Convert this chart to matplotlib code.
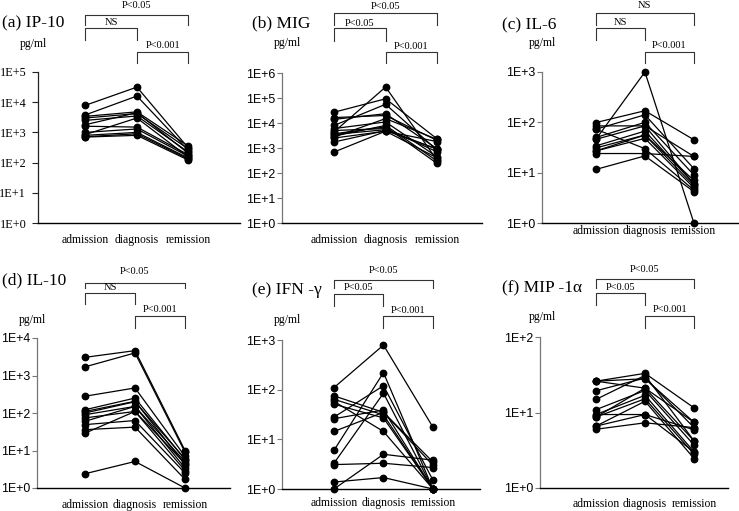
import matplotlib
matplotlib.use('Agg')
import matplotlib.pyplot as plt
from matplotlib.transforms import blended_transform_factory

W, H = 739, 511
categories = ['admission', 'diagnosis', 'remission']

# ---- data (pg/ml) ----
ip10_adm = [7900, 3800, 3400, 3000, 2500, 1800, 1600, 1000, 850, 800, 720, 700]
ip10_dia = [31600, 16000, 4800, 4200, 3500, 4500, 1500, 1300, 3000, 1000, 900, 800]
ip10_rem = [300, 250, 350, 280, 220, 200, 180, 160, 150, 140, 130, 120]

mig_adm = [27000, 16500, 14000, 8000, 6000, 4400, 3700, 3500, 2750, 2500, 1740, 690, 3000, 5000]
mig_dia = [93000, 20000, 23500, 56000, 11000, 275000, 7000, 5400, 15000, 4700, 5000, 4700, 8000, 6000]
mig_rem = [2300, 2000, 930, 810, 440, 320, 240, 900, 2200, 1800, 900, 400, 300, 700]

il6_adm = [99, 85, 73, 50, 46, 34, 31, 27, 24, 11.6, 73, 46, 27]
il6_dia = [170, 85, 141, 100, 1000, 67, 56, 48, 24, 21.5, 30, 85, 56]
il6_rem = [45, 21, 12, 9, 1, 6, 5.5, 5, 21, 4.2, 4.5, 6, 7]

il10_adm = [3050, 1700, 280, 122, 110, 90, 74, 60, 49, 36, 29, 2.4, 100]
il10_dia = [4600, 4000, 465, 250, 205, 150, 110, 150, 63, 42, 110, 5.1, 200]
il10_rem = [10, 9, 7, 5.7, 4.2, 3.4, 2.9, 5, 2.5, 1.7, 4.5, 1, 6]

ifng_adm = [110, 75, 64, 58, 51, 28, 26, 14.4, 6, 3.3, 3.1, 1.38, 1.0]
ifng_dia = [790, 35, 31, 14.4, 27, 120, 39, 35, 220, 85, 3.3, 1.7, 5]
ifng_rem = [17.5, 3.5, 1, 1, 1, 1.5, 1, 3, 1, 1, 2.7, 1, 3.8]

mip_adm = [26, 26, 19.4, 14.9, 10.9, 9.4, 9.4, 8.7, 6.6, 6.0, 8.7, 6.6, 26]
mip_dia = [33, 21, 28.6, 31, 19.6, 16.9, 9.4, 15.2, 14.1, 7.3, 21, 9.4, 28]
mip_rem = [11.5, 7.4, 6.3, 4.2, 3.7, 3.0, 5.9, 2.8, 2.45, 6.3, 4.2, 3.0, 7.4]

titles = ['(a) IP-10', '(b) MIG', '(c) IL-6', '(d) IL-10', '(e) IFN -γ', '(f) MIP -1α']
pvals = [('P<0.05', 'NS', 'P<0.001'),
         ('P<0.05', 'P<0.05', 'P<0.001'),
         ('NS', 'NS', 'P<0.001'),
         ('P<0.05', 'NS', 'P<0.001'),
         ('P<0.05', 'P<0.05', 'P<0.001'),
         ('P<0.05', 'P<0.05', 'P<0.001')]
top_exp = [5, 6, 3, 4, 3, 2]
data = [(ip10_adm, ip10_dia, ip10_rem), (mig_adm, mig_dia, mig_rem),
        (il6_adm, il6_dia, il6_rem), (il10_adm, il10_dia, il10_rem),
        (ifng_adm, ifng_dia, ifng_rem), (mip_adm, mip_dia, mip_rem)]

# ---- layout (pixels) ----
boxes = [(38, 72, 240, 223), (282, 73, 482, 223), (542, 72, 739, 223),
         (37, 338, 230, 488), (282, 340, 480, 489), (540, 337, 728, 488)]
xlims = [(-0.92, 3.0), (-1.01, 2.87), (-1.10, 2.92),
         (-0.96, 2.9), (-1.05, 2.95), (-1.14, 2.69)]
title_pos = [(2, 23), (252, 23), (502, 25), (2, 280), (252, 290), (502, 288)]
pg_pos = [(33, 44), (287, 43), (542, 43), (32, 320), (287, 320), (542, 317)]
xlab_pad = [8, 8, 1.5, 8, 6, 7]
brk = [[(57, 47, 66), (44, 32, 49), (20, 9, 26)],
       [(60, 48, 67), (45, 32, 50), (21, 10, 27)],
       [(59, 47, 66), (44, 32, 49), (20, 9, 26)],
       [(55, 50, 67), (45, 34, 51), (22, 10, 28)],
       [(60, 52, 70), (46, 34, 53), (24, 12, 30)],
       [(58, 49, 67), (44, 32, 50), (21, 9, 27)]]
pairs = [(0, 2), (0, 1), (1, 2)]

SERIF = 'Liberation Serif'
SANS = 'Liberation Sans'

fig = plt.figure(figsize=(W / 100, H / 100), dpi=100)

for k in range(6):
    l, t, r, b = boxes[k]
    ax = fig.add_axes([l / W, 1 - b / H, (r - l) / W, (b - t) / H])
    ax.patch.set_alpha(0)
    adm, dia, rem = data[k]
    for a, d, rr in zip(adm, dia, rem):
        ax.plot([0, 1, 2], [a, d, rr], '-o', color='black', lw=0.9,
                markersize=4.6, clip_on=False, zorder=3)
    ax.set_yscale('log')
    ax.set_ylim(1, 10 ** top_exp[k])
    ax.set_xlim(*xlims[k])
    ticks = [10 ** e for e in range(top_exp[k] + 1)]
    ax.set_yticks(ticks)
    ax.set_yticklabels(['1E+%d' % e for e in range(top_exp[k] + 1)])
    ax.yaxis.set_minor_locator(matplotlib.ticker.NullLocator())
    ax.set_xticks([0, 1, 2])
    ax.set_xticklabels(categories, fontfamily=SERIF, fontsize=8.4)
    ax.tick_params(axis='x', length=0, pad=xlab_pad[k])
    for s in ['top', 'right']:
        ax.spines[s].set_visible(False)
    ax.spines['bottom'].set_color('black')
    ax.spines['bottom'].set_linewidth(1.0)
    if k == 0:
        ax.spines['left'].set_color('#222222')
        ax.tick_params(axis='y', length=4, width=0.8, color='#222222', pad=4.5)
        for lab in ax.get_yticklabels():
            lab.set_fontfamily(SERIF)
            lab.set_fontsize(8.8)
    else:
        ax.spines['left'].set_color('#777777')
        ax.tick_params(axis='y', length=3.5, width=0.8, color='#777777', pad=1.5)
        for lab in ax.get_yticklabels():
            lab.set_fontfamily(SANS)
            lab.set_fontsize(8.9)
    ax.spines['left'].set_linewidth(0.9)

    hpx = b - t
    trans = blended_transform_factory(ax.transData, ax.transAxes)
    for (i0, i1), (bar, tail, lab), txt in zip(pairs, brk[k], pvals[k]):
        yb = 1 + bar / hpx
        yt = 1 + tail / hpx
        yl = 1 + lab / hpx
        ax.plot([i0, i0, i1, i1], [yt, yb, yb, yt], color='#333333', lw=0.8,
                transform=trans, clip_on=False)
        ax.text((i0 + i1) / 2, yl, txt, transform=trans, ha='center', va='center',
                fontfamily=SERIF, fontsize=7.5)

    tx, ty = title_pos[k]
    fig.text(tx / W, 1 - ty / H, titles[k], ha='left', va='center',
             fontfamily=SERIF, fontsize=12.5)
    px, py = pg_pos[k]
    fig.text(px / W, 1 - py / H, 'pg/ml', ha='center', va='center',
             fontfamily=SERIF, fontsize=8.5)

fig.savefig('out.png', dpi=100)
